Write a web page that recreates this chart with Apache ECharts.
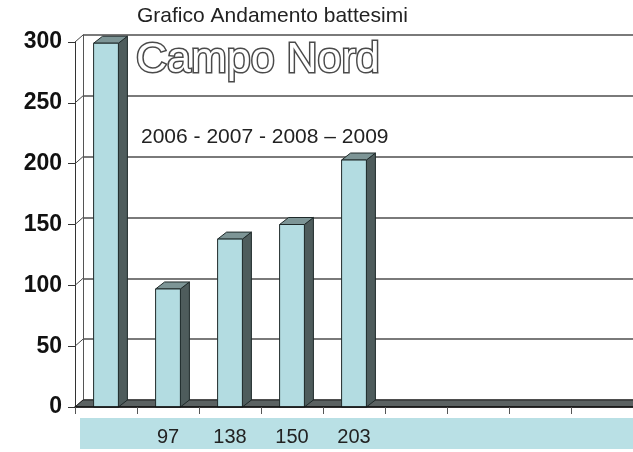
<!DOCTYPE html>
<html>
<head>
<meta charset="utf-8">
<script src="https://cdn.jsdelivr.net/npm/echarts@6/dist/echarts.min.js"></script>
<style>
  html, body { margin: 0; padding: 0; background: #fff; }
  #main { width: 633px; height: 452px; }
</style>
</head>
<body>
<div id="main"></div>
<script>
  // dati
  const categories = ['', '97', '138', '150', '203', '', '', '', ''];
  const values = [299, 97, 138, 150, 203];
  const yTicks = [0, 50, 100, 150, 200, 250, 300];

  const DX = 9, DY = -7;      // profondita' barre
  const WX = 8, WY = -7;      // profondita' pareti

  const FONT = '"Liberation Sans", Arial, sans-serif';

  let myChart = echarts.init(document.getElementById('main'));

  function renderBar(params, api) {
    const base = api.coord([api.value(0), 0]);
    const top = api.coord([api.value(0), api.value(1)]);
    const w = api.size([1, 0])[0] * 0.4;
    const x0 = base[0] - w / 2;
    const stroke = { stroke: '#1f2a2a', lineWidth: 1 };
    return {
      type: 'group',
      children: [
        {
          type: 'polygon',
          shape: { points: [[x0 + w, top[1]], [x0 + w + DX, top[1] + DY], [x0 + w + DX, base[1] + DY], [x0 + w, base[1]]] },
          style: Object.assign({ fill: '#4e5c5c' }, stroke)
        },
        {
          type: 'polygon',
          shape: { points: [[x0, top[1]], [x0 + DX, top[1] + DY], [x0 + w + DX, top[1] + DY], [x0 + w, top[1]]] },
          style: Object.assign({ fill: '#7d9596' }, stroke)
        },
        {
          type: 'rect',
          shape: { x: x0, y: top[1], width: w, height: base[1] - top[1] },
          style: Object.assign({ fill: '#b3dce1' }, stroke)
        }
      ]
    };
  }

  function renderFloor(params, api) {
    const catW = api.size([1, 0])[0];
    const p0 = api.coord([0, 0]);
    const p1 = api.coord([categories.length - 1, 0]);
    const left = p0[0] - catW / 2, right = p1[0] + catW / 2, y = p0[1];
    return {
      type: 'polygon',
      shape: { points: [[left, y], [right, y], [right + WX, y + WY], [left + WX, y + WY]] },
      style: { fill: '#5b6262', stroke: '#222', lineWidth: 1 }
    };
  }

  function renderWall(params, api) {
    const catW = api.size([1, 0])[0];
    const p = api.coord([0, api.value(1)]);
    const left = p[0] - catW / 2;
    return {
      type: 'line',
      shape: { x1: left, y1: p[1], x2: left + WX, y2: p[1] + WY },
      style: { stroke: '#444', lineWidth: 1 }
    };
  }

  myChart.setOption({
    animation: false,
    title: [
      {
        text: 'Grafico Andamento battesimi',
        left: 137, top: 6, padding: 0,
        textStyle: { fontFamily: FONT, fontSize: 21, fontWeight: 'normal', color: '#222' }
      },
      {
        text: 'Campo Nord',
        left: 136, top: 39, padding: 0,
        textStyle: {
          fontFamily: FONT, fontSize: 43, fontWeight: 'normal', color: '#ffffff',
          textBorderColor: '#4a4a4a', textBorderWidth: 3
        }
      },
      {
        text: '2006 - 2007 - 2008 \u2013 2009',
        left: 141, top: 127, padding: 0,
        textStyle: { fontFamily: FONT, fontSize: 21, fontWeight: 'normal', color: '#222' }
      }
    ],
    graphic: [
      { type: 'rect', z: -1, shape: { x: 80, y: 418, width: 560, height: 31 }, style: { fill: '#b9e0e5' } }
    ],
    grid: [
      { left: 75, right: -3, top: 42, bottom: 45 },
      { left: 83, right: -11, top: 35, bottom: 52 }
    ],
    xAxis: [
      {
        type: 'category', gridIndex: 0, data: categories,
        axisLine: { show: true, lineStyle: { color: '#111', width: 1.5 } },
        axisTick: { show: true, length: 7, alignWithLabel: false, lineStyle: { color: '#555' } },
        axisLabel: { margin: 20, fontFamily: FONT, fontSize: 20, color: '#222', interval: 0 },
        z: 5
      },
      {
        type: 'category', gridIndex: 1, data: categories, show: false
      }
    ],
    yAxis: [
      {
        type: 'value', gridIndex: 0, min: 0, max: 300, interval: 50,
        axisLine: { show: true, lineStyle: { color: '#333', width: 1 } },
        axisTick: { show: true, length: 7, lineStyle: { color: '#333' } },
        axisLabel: { margin: 13, fontFamily: FONT, fontSize: 23, fontWeight: 'bold', color: '#111' },
        splitLine: { show: false }
      },
      {
        type: 'value', gridIndex: 1, min: 0, max: 300, interval: 50,
        axisLine: { show: true, lineStyle: { color: '#555', width: 1 } },
        axisTick: { show: false },
        axisLabel: { show: false },
        splitLine: { show: true, lineStyle: { color: '#7a7a7a', width: 2 } }
      }
    ],
    series: [
      {
        type: 'custom', xAxisIndex: 0, yAxisIndex: 0,
        renderItem: renderWall,
        data: yTicks.map(v => [0, v]), silent: true
      },
      {
        type: 'custom', xAxisIndex: 0, yAxisIndex: 0,
        renderItem: renderFloor,
        data: [[0, 0]], silent: true
      },
      {
        name: 'battesimi', type: 'custom', xAxisIndex: 0, yAxisIndex: 0,
        renderItem: renderBar,
        data: values.map((v, i) => [i, v])
      }
    ]
  });
</script>
</body>
</html>
